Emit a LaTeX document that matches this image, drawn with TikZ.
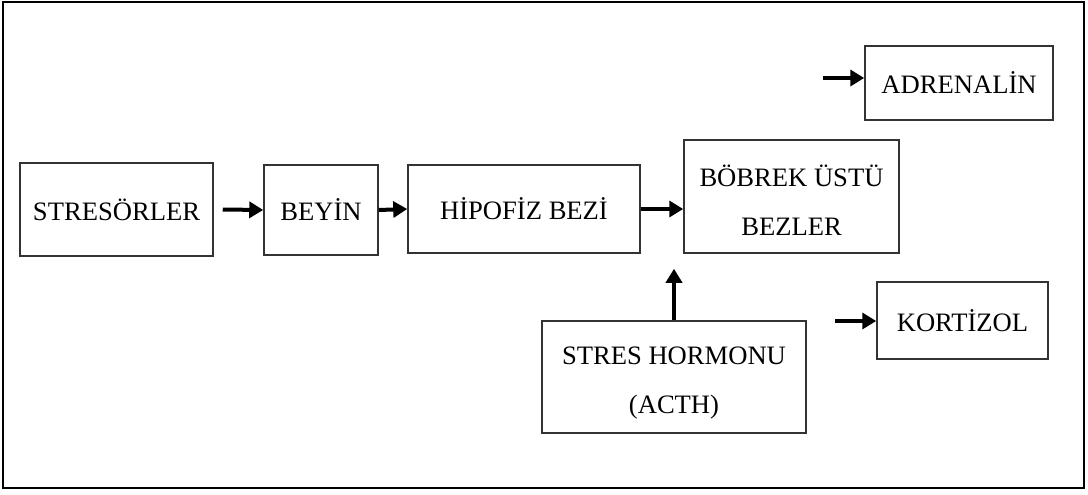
\documentclass[tikz,border=0pt]{standalone}
\usepackage{fontspec}
\setmainfont{Liberation Serif}
\usetikzlibrary{arrows.meta}

\newcommand{\lowstrut}{\rule{0pt}{15pt}}

\tikzset{
  box/.style={draw=black!80, line width=.75pt, inner sep=0pt, align=center,
    font=\fontsize{13.3}{24.5}\selectfont},
  flow/.style={->, line width=2pt}
}

\begin{document}
\begin{tikzpicture}[x=.5pt, y=-.5pt, >={Triangle[length=7pt,width=8pt]}]
  \useasboundingbox (0,0) rectangle (1088,494);
  \draw[line width=1pt] (3,2) rectangle (1084,488);
  % boxes
  \node[box, minimum width=96.5pt, minimum height=46.5pt] (stresorler) at (116.5,209.5) {STRESÖRLER};
  \node[box, minimum width=57pt, minimum height=45pt] (beyin) at (321,210) {BEYİN};
  \node[box, minimum width=116pt, minimum height=44pt] (hipofiz) at (524,209) {HİPOFİZ BEZİ};
  \node[box, minimum width=107.5pt, minimum height=56.5pt] (bobrek) at (791.5,196.5) {\lowstrut BÖBREK ÜSTÜ\\BEZLER};
  \node[box, minimum width=94pt, minimum height=37pt] (adrenalin) at (959,83) {ADRENALİN};
  \node[box, minimum width=85.5pt, minimum height=38.5pt] (kortizol) at (962.5,320.5) {KORTİZOL};
  \node[box, minimum width=132pt, minimum height=56pt] (hormon) at (674,377) {\lowstrut STRES HORMONU\\(ACTH)};
  % arrows
  \coordinate (adrstart) at (823,78);
  \coordinate (kortstart) at (835,321);
  \draw[flow] ([xshift=4.5pt]stresorler.east) -- (beyin.west);
  \draw[flow] (beyin.east) -- (hipofiz.west);
  \draw[flow] (hipofiz.east) -- (hipofiz.east -| bobrek.west);
  \draw[flow, shorten >=7.5pt] (hormon.north) -- (hormon.north |- bobrek.south);
  \draw[flow] (adrstart) -- (adrstart -| adrenalin.west);
  \draw[flow] (kortstart) -- (kortstart -| kortizol.west);
\end{tikzpicture}
\end{document}
